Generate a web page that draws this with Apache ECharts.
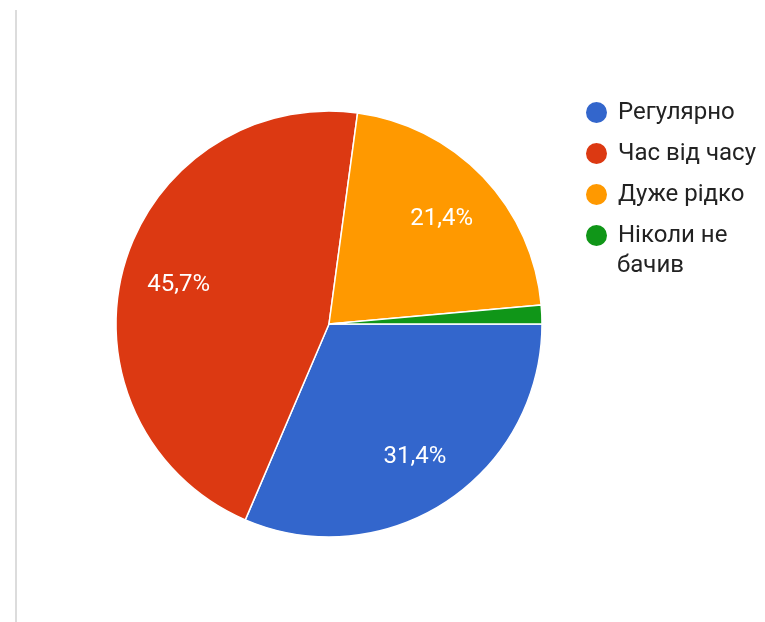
<!DOCTYPE html>
<html><head><meta charset="utf-8">
<script src="https://cdn.jsdelivr.net/npm/echarts@6/dist/echarts.min.js"></script>
<style>html,body{margin:0;padding:0;background:#fff}#c{width:765px;height:622px}</style>
</head><body><div id="c"></div>
<script>
const categories = ['Регулярно', 'Час від часу', 'Дуже рідко', 'Ніколи не бачив'];
const values = [22, 32, 15, 1];
const colors = ['#3366cc', '#dc3912', '#ff9900', '#109618'];

const data = categories.map((n, i) => ({ name: n, value: values[i], itemStyle: { color: colors[i] } }));
const chart = echarts.init(document.getElementById('c'), null, { renderer: 'canvas' });
const fmt = p => p.percent.toFixed(1).replace('.', ',') + '%';
chart.setOption({
  animation: false,
  backgroundColor: '#fff',
  legend: {
    data: categories,
    orient: 'vertical',
    left: 584, top: 100, padding: 0,
    icon: 'circle', itemWidth: 23, itemHeight: 23, itemGap: 16,
    selectedMode: false,
    formatter: n => n === 'Ніколи не бачив' ? 'Ніколи не' : n,
    textStyle: { fontFamily: 'Roboto', fontSize: 24, color: '#222', padding: [0, 0, 0, 5] }
  },
  graphic: [
    { type: 'line', shape: { x1: 16, y1: 10, x2: 16, y2: 622 }, style: { stroke: '#dcdcdc', lineWidth: 2 } },
    { type: 'text', left: 617, top: 254, style: { text: 'бачив', fontFamily: 'Roboto', fontSize: 24, fill: '#222' } }
  ],
  series: [
    {
      type: 'pie', center: [329, 324], radius: [0, 213], startAngle: 0, clockwise: true,
      data: data, silent: true,
      itemStyle: { borderColor: '#fff', borderWidth: 1.5 },
      label: { show: false }, labelLine: { show: false }
    },
    {
      type: 'pie', center: [329, 327], radius: [0, 306], startAngle: 0, clockwise: true,
      data: categories.map((n, i) => ({ name: n, value: values[i] })), silent: true,
      itemStyle: { color: 'rgba(0,0,0,0)', borderWidth: 0 },
      minShowLabelAngle: 10,
      label: { show: true, position: 'inside', formatter: fmt, color: '#fff', fontFamily: 'Roboto', fontSize: 24 },
      labelLine: { show: false }
    }
  ]
});
</script></body></html>
